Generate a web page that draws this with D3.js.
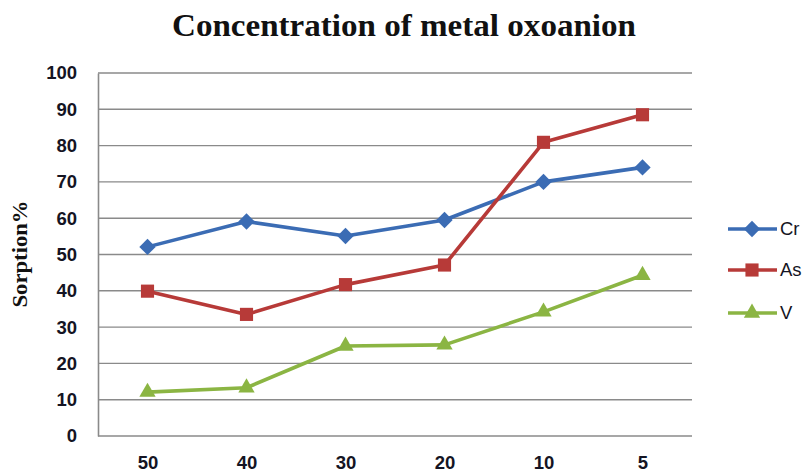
<!DOCTYPE html>
<html>
<head>
<meta charset="utf-8">
<script src="https://cdn.jsdelivr.net/npm/d3@7"></script>
<style>
  html, body { margin: 0; padding: 0; background: #fff; }
  svg { display: block; }
</style>
</head>
<body>
<svg id="chart" width="805" height="474"></svg>
<script>
// Concentration labels along the x axis
const categories = ["50", "40", "30", "20", "10", "5"];

// Sorption (%) per oxoanion
const crValues = [52.1, 59.1, 55.1, 59.5, 70.0, 74.0];
const asValues = [39.9, 33.5, 41.7, 47.1, 80.9, 88.5];
const vValues  = [12.1, 13.3, 24.8, 25.1, 34.2, 44.3];

const yTicks = [0, 10, 20, 30, 40, 50, 60, 70, 80, 90, 100];

const seriesNames = ["Cr", "As", "V"];

const series = [
  { name: seriesNames[0], values: crValues, color: "#3b6cb4", symbol: d3.symbolDiamond2, size: 170 },
  { name: seriesNames[1], values: asValues, color: "#b73a38", symbol: d3.symbolSquare2, size: 220 },
  { name: seriesNames[2], values: vValues,  color: "#8bb543", symbol: d3.symbolTriangle2, size: 190 }
];

const svg = d3.select("#chart");

const plot = { left: 98, right: 692, top: 73, bottom: 436 };

const x = d3.scalePoint()
  .domain(categories)
  .range([plot.left, plot.right])
  .padding(0.5);

const y = d3.scaleLinear()
  .domain([0, 100])
  .range([plot.bottom, plot.top]);

const tickFont = "'Liberation Sans', Arial, sans-serif";
const serifFont = "'Liberation Serif', 'Times New Roman', serif";

// Title
svg.append("text")
  .attr("x", 404)
  .attr("y", 36)
  .attr("text-anchor", "middle")
  .attr("font-family", serifFont)
  .attr("font-weight", "bold")
  .attr("font-size", 31)
  .attr("textLength", 464)
  .attr("lengthAdjust", "spacingAndGlyphs")
  .attr("fill", "#111")
  .text("Concentration of metal oxoanion");

// Horizontal gridlines
svg.append("g")
  .selectAll("line")
  .data(yTicks.filter(t => t > 0))
  .join("line")
  .attr("x1", plot.left)
  .attr("x2", plot.right)
  .attr("y1", d => y(d))
  .attr("y2", d => y(d))
  .attr("stroke", "#8a8a8a")
  .attr("stroke-width", 1.4);

// Y axis
const yAxis = d3.axisLeft(y).tickValues(yTicks).tickSize(0).tickPadding(21);
const yG = svg.append("g")
  .attr("transform", `translate(${plot.left},0)`)
  .call(yAxis);
yG.select(".domain").attr("stroke", "#8a8a8a").attr("stroke-width", 1.6);
yG.selectAll("text")
  .attr("font-family", tickFont)
  .attr("font-weight", "bold")
  .attr("font-size", 18.5)
  .attr("fill", "#141423");

// X axis
const xAxis = d3.axisBottom(x).tickSize(0).tickPadding(20);
const xG = svg.append("g")
  .attr("transform", `translate(0,${plot.bottom})`)
  .call(xAxis);
xG.select(".domain")
  .attr("d", `M${plot.left},0H${plot.right}`)
  .attr("stroke", "#8a8a8a")
  .attr("stroke-width", 1.6);
xG.selectAll("text")
  .attr("font-family", tickFont)
  .attr("font-weight", "bold")
  .attr("font-size", 18.5)
  .attr("fill", "#141423");

// Y axis title
svg.append("text")
  .attr("transform", "translate(27,254) rotate(-90)")
  .attr("text-anchor", "middle")
  .attr("font-family", serifFont)
  .attr("font-weight", "bold")
  .attr("font-size", 21)
  .attr("textLength", 107)
  .attr("lengthAdjust", "spacingAndGlyphs")
  .attr("fill", "#111")
  .text("Sorption%");

// Lines and markers
const line = d3.line()
  .x((d, i) => x(categories[i]))
  .y(d => y(d));

series.forEach(s => {
  const g = svg.append("g");
  g.append("path")
    .datum(s.values)
    .attr("d", line)
    .attr("fill", "none")
    .attr("stroke", s.color)
    .attr("stroke-width", 3.6)
    .attr("stroke-linejoin", "round");
  g.selectAll("path.marker")
    .data(s.values)
    .join("path")
    .attr("class", "marker")
    .attr("transform", (d, i) => `translate(${x(categories[i])},${y(d)})`)
    .attr("d", d3.symbol().type(s.symbol).size(s.size))
    .attr("fill", s.color);
});

// Legend
const legendY = [229, 270, 313];
series.forEach((s, i) => {
  const g = svg.append("g").attr("transform", `translate(0,${legendY[i]})`);
  g.append("line")
    .attr("x1", 728).attr("x2", 777)
    .attr("stroke", s.color)
    .attr("stroke-width", 3.6);
  g.append("path")
    .attr("transform", "translate(752,0)")
    .attr("d", d3.symbol().type(s.symbol).size(s.size))
    .attr("fill", s.color);
  g.append("text")
    .attr("x", 780)
    .attr("y", 0)
    .attr("dy", "0.35em")
    .attr("font-family", tickFont)
    .attr("font-size", 18.5)
    .attr("fill", "#141423")
    .text(s.name);
});
</script>
</body>
</html>
